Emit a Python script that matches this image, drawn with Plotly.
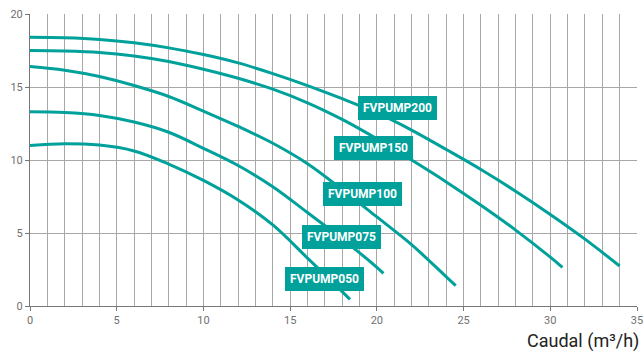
import plotly.graph_objects as go

# ---- data ----
series_names = ["FVPUMP200", "FVPUMP150", "FVPUMP100", "FVPUMP075", "FVPUMP050"]

q200 = [0, 2, 4, 6, 8, 10, 12, 14, 16, 18, 20, 22, 24, 26, 28, 30, 32, 34]
h200 = [18.4, 18.37, 18.26, 18.03, 17.68, 17.22, 16.65, 15.92, 15.1, 14.2, 13.22, 12.05, 10.72, 9.35, 7.86, 6.27, 4.58, 2.74]

q150 = [0, 2, 4, 6, 8, 10, 12, 14, 16, 18, 20, 22, 24, 26, 28, 30, 30.7]
h150 = [17.5, 17.47, 17.37, 17.13, 16.75, 16.22, 15.6, 14.85, 13.92, 12.78, 11.45, 10.0, 8.5, 6.9, 5.2, 3.35, 2.65]

q100 = [0, 2, 4, 6, 8, 10, 12, 14, 16, 18, 20, 22, 24, 24.55]
h100 = [16.4, 16.15, 15.72, 15.1, 14.35, 13.35, 12.3, 11.15, 9.75, 7.98, 6.1, 4.2, 2.0, 1.4]

q075 = [0, 2, 4, 6, 8, 10, 12, 14, 16, 18, 20, 20.38]
h075 = [13.3, 13.25, 13.05, 12.6, 11.9, 10.8, 9.62, 8.17, 6.4, 4.6, 2.65, 2.24]

q050 = [0, 2, 4, 6, 8, 10, 12, 14, 16, 18, 18.45]
h050 = [11.0, 11.12, 11.02, 10.62, 9.72, 8.6, 7.26, 5.55, 3.28, 0.98, 0.45]

label_x = [21.17, 19.78, 19.15, 17.97, 16.97]
label_y = [13.56, 10.8, 7.65, 4.7, 1.88]

x_ticks = [0, 5, 10, 15, 20, 25, 30, 35]
y_ticks = [0, 5, 10, 15, 20]
x_title = "Caudal (m³/h)"

TEAL = "#00a19b"
FONT = "Roboto"

fig = go.Figure()
for q, h, name in zip([q200, q150, q100, q075, q050],
                      [h200, h150, h100, h075, h050], series_names):
    fig.add_trace(go.Scatter(x=q, y=h, mode="lines", name=name,
                             line=dict(color=TEAL, width=3, shape="spline", smoothing=1.0),
                             hoverinfo="skip", showlegend=False))

for name, lx, ly in zip(series_names, label_x, label_y):
    fig.add_annotation(x=lx, y=ly, xref="x", yref="y", text="<b>" + name + "</b>",
                       showarrow=False, bgcolor=TEAL, borderpad=4, bordercolor=TEAL,
                       borderwidth=1,
                       font=dict(family=FONT, size=12, color="white"))

fig.add_annotation(x=1, y=0, xref="paper", yref="paper", text=x_title,
                   showarrow=False, xanchor="right", yanchor="middle",
                   xshift=4, yshift=-35,
                   font=dict(family=FONT, size=18, color="#222222"))

fig.update_xaxes(range=[0, 35], tickvals=x_ticks, ticktext=[str(v) for v in x_ticks],
                 automargin=False,
                 showgrid=True, gridcolor="#a8a8a8", gridwidth=1,
                 minor=dict(dtick=1, showgrid=True, gridcolor="#a8a8a8", gridwidth=1),
                 showline=True, linecolor="#777777", linewidth=1,
                 ticks="outside", ticklen=4, tickcolor="#777777",
                 tickfont=dict(family=FONT, size=11, color="#707070"),
                 zeroline=False, fixedrange=True)
fig.update_yaxes(range=[0, 20], tickvals=y_ticks, ticktext=[str(v) for v in y_ticks],
                 automargin=False,
                 showgrid=True, gridcolor="#a8a8a8", gridwidth=1,
                 showline=True, linecolor="#777777", linewidth=1,
                 ticks="outside", ticklen=4, tickcolor="#777777",
                 tickfont=dict(family=FONT, size=11, color="#707070"),
                 zeroline=False, fixedrange=True)

fig.update_layout(width=644, height=352,
                  margin=dict(l=30, r=7, t=14, b=46),
                  plot_bgcolor="white", paper_bgcolor="white",
                  font=dict(family=FONT))

fig.write_html("out.html", config={"displayModeBar": False},
               post_script="document.body.style.margin='0';document.body.style.overflow='hidden';")
